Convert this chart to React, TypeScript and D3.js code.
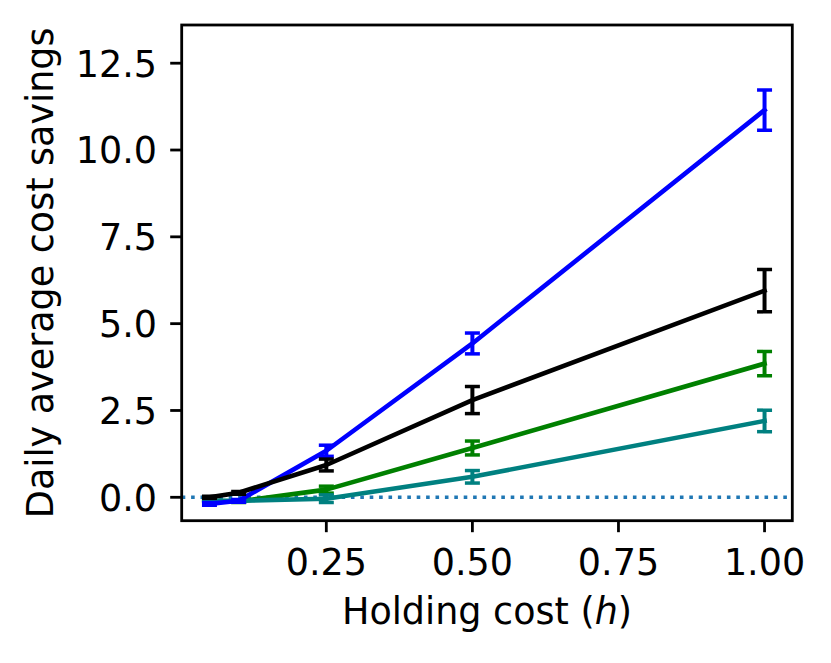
import * as d3 from "d3";

// holding cost levels
const holdingCosts = [0.05, 0.1, 0.25, 0.5, 1.0];

// series means and error half-widths
const blueMean = [-0.19, -0.1, 1.34, 4.43, 11.15];
const blueErr = [0.04, 0.04, 0.16, 0.3, 0.58];
const blackMean = [0.0, 0.13, 0.93, 2.8, 5.95];
const blackErr = [0.03, 0.04, 0.17, 0.39, 0.61];
const greenMean = [-0.1, -0.12, 0.22, 1.42, 3.85];
const greenErr = [0.02, 0.03, 0.1, 0.2, 0.35];
const tealMean = [-0.1, -0.1, -0.04, 0.59, 2.2];
const tealErr = [0.02, 0.02, 0.11, 0.18, 0.31];

const xTicks = [0.25, 0.5, 0.75, 1.0];
const yTicks = [0, 2.5, 5, 7.5, 10, 12.5];

const width = 831;
const height = 663;
const plot = { left: 181.7, right: 792.3, top: 25, bottom: 520.7 };
const font = "'DejaVu Sans', sans-serif";
const fontSize = 36.5;

const x = d3.scaleLinear().domain([0.0025, 1.0475]).range([plot.left, plot.right]);
const y = d3.scaleLinear().domain([-0.674, 13.6]).range([plot.bottom, plot.top]);

// drawing order matters: later series sit on top
const series = [
  { name: "green", color: "#008000", mean: greenMean, err: greenErr },
  { name: "teal", color: "#008080", mean: tealMean, err: tealErr },
  { name: "blue", color: "#0000ff", mean: blueMean, err: blueErr },
  { name: "black", color: "#000000", mean: blackMean, err: blackErr },
];

const lineGen = d3
  .line<number>()
  .x((_, i) => x(holdingCosts[i]))
  .y((d) => y(d));

const capHalf = 7.5;
const lw = 4.6;
const stemW = 4;
const capW = 3.5;

export default function App() {
  return (
    <svg
      width={width}
      height={height}
      style={{ position: "absolute", left: 0, top: 0, background: "#fff" }}
      fontFamily={font}
    >
      <rect width={width} height={height} fill="#fff" />
      <defs>
        <clipPath id="plotClip">
          <rect x={plot.left} y={plot.top} width={plot.right - plot.left} height={plot.bottom - plot.top} />
        </clipPath>
      </defs>

      <g clipPath="url(#plotClip)">
        {/* zero reference line */}
        <line
          x1={plot.left}
          x2={plot.right}
          y1={y(0)}
          y2={y(0)}
          stroke="#1f77b4"
          strokeWidth={3.6}
          strokeDasharray="3.6,5.8"
        />

        {series.map((s) => (
          <g key={s.name}>
            <path d={lineGen(s.mean) || ""} fill="none" stroke={s.color} strokeWidth={lw} strokeLinejoin="round" strokeLinecap="square" />
            {s.mean.map((m, i) => {
              const cx = x(holdingCosts[i]);
              const hi = y(m + s.err[i]);
              const lo = y(m - s.err[i]);
              return (
                <g key={i} stroke={s.color}>
                  <line x1={cx} x2={cx} y1={hi} y2={lo} strokeWidth={stemW} />
                  <line x1={cx - capHalf} x2={cx + capHalf} y1={hi} y2={hi} strokeWidth={capW} />
                  <line x1={cx - capHalf} x2={cx + capHalf} y1={lo} y2={lo} strokeWidth={capW} />
                </g>
              );
            })}
          </g>
        ))}
      </g>

      {/* frame */}
      <rect
        x={plot.left}
        y={plot.top}
        width={plot.right - plot.left}
        height={plot.bottom - plot.top}
        fill="none"
        stroke="#000"
        strokeWidth={2.8}
      />

      {/* x axis ticks */}
      {xTicks.map((t) => (
        <g key={t}>
          <line x1={x(t)} x2={x(t)} y1={plot.bottom} y2={plot.bottom + 11.5} stroke="#000" strokeWidth={2.8} />
          <text x={x(t)} y={574.5} textAnchor="middle" fontSize={fontSize} fill="#000">
            {t.toFixed(2)}
          </text>
        </g>
      ))}

      {/* y axis ticks */}
      {yTicks.map((t) => (
        <g key={t}>
          <line x1={plot.left - 11.5} x2={plot.left} y1={y(t)} y2={y(t)} stroke="#000" strokeWidth={2.8} />
          <text x={157} y={y(t) + 13.3} textAnchor="end" fontSize={fontSize} fill="#000">
            {t.toFixed(1)}
          </text>
        </g>
      ))}

      <text x={487} y={624} textAnchor="middle" fontSize={fontSize} fill="#000">
        Holding cost (<tspan fontStyle="italic">h</tspan>)
      </text>

      <text
        transform={`translate(53.3,${(plot.top + plot.bottom) / 2}) rotate(-90)`}
        textAnchor="middle"
        fontSize={fontSize}
        fill="#000"
      >
        Daily average cost savings
      </text>
    </svg>
  );
}
